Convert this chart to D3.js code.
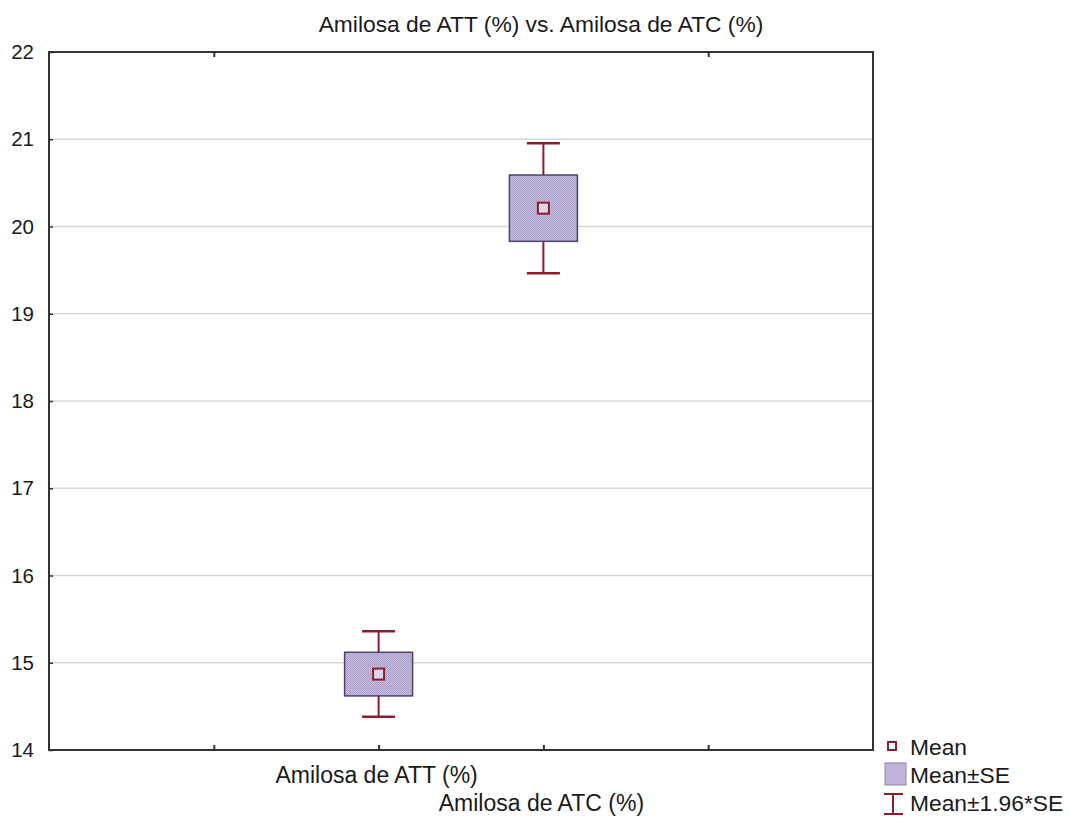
<!DOCTYPE html>
<html>
<head>
<meta charset="utf-8">
<script src="https://cdn.jsdelivr.net/npm/d3@7"></script>
<style>
  body { margin: 0; background: #fff; }
  text { font-family: "Liberation Sans", Arial, sans-serif; fill: #1a1a1a; }
</style>
</head>
<body>
<script>
// data
var categories = ["Amilosa de ATT (%)", "Amilosa de ATC (%)"];
var means = [14.87, 20.21];
var se = [0.25, 0.38];
var yTicks = [14, 15, 16, 17, 18, 19, 20, 21, 22];
var legendLabels = ["Mean", "Mean\u00b1SE", "Mean\u00b11.96*SE"];

var W = 1070, H = 820;
var mLeft = 49, mRight = 873, mTop = 52, mBottom = 750;

var svg = d3.select("body").append("svg")
    .attr("width", W)
    .attr("height", H);

// hatched lavender fill
var defs = svg.append("defs");
var pat = defs.append("pattern")
    .attr("id", "hatch")
    .attr("patternUnits", "userSpaceOnUse")
    .attr("width", 2).attr("height", 2);
pat.append("rect").attr("width", 2).attr("height", 2).attr("fill", "#c6bbdc");
pat.append("rect").attr("width", 1).attr("height", 1).attr("fill", "#a99bc8");
pat.append("rect").attr("x", 1).attr("y", 1).attr("width", 1).attr("height", 1).attr("fill", "#b2a5cf");

var y = d3.scaleLinear().domain([14, 22]).range([mBottom, mTop]);
// five equal slots, categories sit on the 2nd and 3rd ticks
var x = d3.scaleLinear().domain([0, 5]).range([mLeft, mRight]);
var catPos = [2, 3];

// gridlines
svg.append("g")
    .selectAll("line")
    .data(yTicks.filter(function(d){ return d > 14 && d < 22; }))
    .enter().append("line")
    .attr("x1", mLeft).attr("x2", mRight)
    .attr("y1", function(d){ return y(d); })
    .attr("y2", function(d){ return y(d); })
    .attr("stroke", "#d6d6d6")
    .attr("stroke-width", 1.5);

// y axis labels and ticks
var yAxis = d3.axisLeft(y).tickValues(yTicks).tickSize(-4).tickPadding(15).tickFormat(d3.format("d"));
var gy = svg.append("g").attr("transform", "translate(" + mLeft + ",0)").call(yAxis);
gy.select(".domain").remove();
gy.selectAll(".tick line").attr("stroke", "#333").attr("stroke-width", 1.5);
gy.selectAll(".tick text").style("font-size", "20.5px").attr("fill", "#1a1a1a")
    .style("font-family", "Liberation Sans, Arial, sans-serif");

// x ticks, bottom (pointing up) and top (pointing down)
var xt = [1, 2, 3, 4];
var gxb = svg.append("g").attr("transform", "translate(0," + mBottom + ")")
    .call(d3.axisBottom(x).tickValues(xt).tickSize(-5).tickFormat(""));
gxb.select(".domain").remove();
gxb.selectAll(".tick line").attr("stroke", "#333").attr("stroke-width", 2);
var gxt = svg.append("g").attr("transform", "translate(0," + mTop + ")")
    .call(d3.axisTop(x).tickValues([1, 4]).tickSize(-5).tickFormat(""));
gxt.select(".domain").remove();
gxt.selectAll(".tick line").attr("stroke", "#333").attr("stroke-width", 2);

// frame
svg.append("rect")
    .attr("x", mLeft).attr("y", mTop)
    .attr("width", mRight - mLeft).attr("height", mBottom - mTop)
    .attr("fill", "none")
    .attr("stroke", "#333")
    .attr("stroke-width", 2);

var red = "#8c1c2c";
var boxW = 68, capW = 33, meanS = 11;

var groups = svg.append("g").selectAll("g")
    .data(means)
    .enter().append("g");

// whiskers (mean +- 1.96*SE)
groups.append("line")
    .attr("x1", function(d, i){ return x(catPos[i]); })
    .attr("x2", function(d, i){ return x(catPos[i]); })
    .attr("y1", function(d, i){ return y(d + 1.96 * se[i]); })
    .attr("y2", function(d, i){ return y(d - 1.96 * se[i]); })
    .attr("stroke", red).attr("stroke-width", 2);
[1, -1].forEach(function(s){
  groups.append("line")
    .attr("x1", function(d, i){ return x(catPos[i]) - capW / 2; })
    .attr("x2", function(d, i){ return x(catPos[i]) + capW / 2; })
    .attr("y1", function(d, i){ return y(d + s * 1.96 * se[i]); })
    .attr("y2", function(d, i){ return y(d + s * 1.96 * se[i]); })
    .attr("stroke", red).attr("stroke-width", 2.5);
});

// boxes (mean +- SE)
groups.append("rect")
    .attr("x", function(d, i){ return x(catPos[i]) - boxW / 2; })
    .attr("y", function(d, i){ return y(d + se[i]); })
    .attr("width", boxW)
    .attr("height", function(d, i){ return y(d - se[i]) - y(d + se[i]); })
    .attr("fill", "url(#hatch)")
    .attr("stroke", "#4e4070")
    .attr("stroke-width", 1.5);

// mean markers
groups.append("rect")
    .attr("x", function(d, i){ return x(catPos[i]) - meanS / 2; })
    .attr("y", function(d){ return y(d) - meanS / 2; })
    .attr("width", meanS).attr("height", meanS)
    .attr("fill", "#ddd5ea")
    .attr("stroke", red).attr("stroke-width", 2);

// category labels, staggered
svg.append("g").selectAll("text")
    .data(categories)
    .enter().append("text")
    .attr("x", function(d, i){ return x(catPos[i]) - 2; })
    .attr("y", function(d, i){ return i == 0 ? 783 : 811; })
    .attr("text-anchor", "middle")
    .style("font-size", "23px")
    .text(function(d){ return d; });

// title
svg.append("text")
    .attr("x", 541).attr("y", 32)
    .attr("text-anchor", "middle")
    .style("font-size", "22.8px")
    .text("Amilosa de ATT (%) vs. Amilosa de ATC (%)");

// legend
var lg = svg.append("g");
lg.append("rect").attr("x", 888).attr("y", 742).attr("width", 8).attr("height", 8)
    .attr("fill", "#fff").attr("stroke", red).attr("stroke-width", 2);
lg.append("rect").attr("x", 885).attr("y", 763).attr("width", 21).attr("height", 22)
    .attr("fill", "#c0b4d8").attr("stroke", "#8f83ad").attr("stroke-width", 1);
lg.append("line").attr("x1", 893).attr("x2", 893).attr("y1", 794).attr("y2", 814)
    .attr("stroke", red).attr("stroke-width", 2);
lg.append("line").attr("x1", 884).attr("x2", 903).attr("y1", 794).attr("y2", 794)
    .attr("stroke", red).attr("stroke-width", 2);
lg.append("line").attr("x1", 884).attr("x2", 903).attr("y1", 814).attr("y2", 814)
    .attr("stroke", red).attr("stroke-width", 2);
lg.selectAll("text.lab")
    .data(legendLabels)
    .enter().append("text")
    .attr("class", "lab")
    .attr("x", 910)
    .attr("y", function(d, i){ return 755 + i * 28; })
    .style("font-size", "22.8px")
    .text(function(d){ return d; });
</script>
</body>
</html>
